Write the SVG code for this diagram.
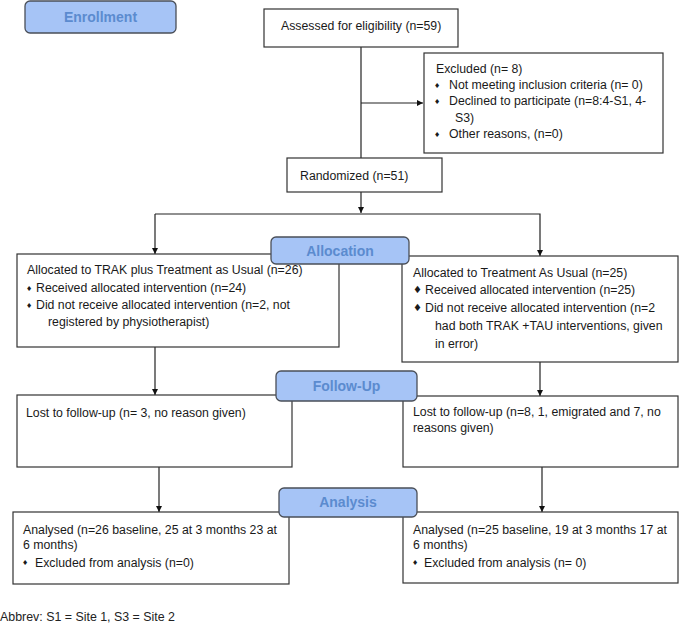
<svg xmlns="http://www.w3.org/2000/svg" width="679" height="626" viewBox="0 0 679 626">
<style>
.box{fill:#fff;stroke:#333;stroke-width:1.2}
.lbl{fill:#a6c4f6;stroke:#4a4f58;stroke-width:1.3}
.lt{font-family:"Liberation Sans",Arial,sans-serif;font-weight:bold;font-size:14px;fill:#5b8bcf;text-anchor:middle}
.t{font-family:"Liberation Sans",Arial,sans-serif;font-size:12.3px;fill:#1a1a1a}
.b{font-family:"DejaVu Sans",sans-serif;font-size:7px;fill:#1a1a1a}
.bb{font-family:"DejaVu Sans",sans-serif;font-size:10px;fill:#1a1a1a}
.ln{fill:none;stroke:#222;stroke-width:1.2}
.ft{font-family:"Liberation Sans",Arial,sans-serif;font-size:12.4px;fill:#222}
</style>
<defs>
<marker id="ah" viewBox="0 0 10 10" refX="10" refY="5" markerWidth="6" markerHeight="6" orient="auto" markerUnits="userSpaceOnUse">
<path d="M0,0 L10,5 L0,10 Z" fill="#111"/>
</marker>
</defs>

<g id="connectors">
<path class="ln" d="M361,47 V158"/>
<path class="ln" d="M361,103 H423" marker-end="url(#ah)"/>
<path class="ln" d="M361,192 V213" marker-end="url(#ah)"/>
<path class="ln" d="M155,214 H540 V256" marker-end="url(#ah)"/>
<path class="ln" d="M155,214 V254" marker-end="url(#ah)"/>
<path class="ln" d="M155,347 V395" marker-end="url(#ah)"/>
<path class="ln" d="M540,362 V396" marker-end="url(#ah)"/>
<path class="ln" d="M159,467 V512" marker-end="url(#ah)"/>
<path class="ln" d="M542,467 V512" marker-end="url(#ah)"/>
</g>

<g id="enrollment">
<rect class="lbl" x="25" y="1" width="151" height="32" rx="5"/>
<text class="lt" x="100.5" y="22">Enrollment</text>
</g>

<g id="assessed">
<rect class="box" x="264" y="9" width="194" height="38"/>
<text class="t" x="281" y="30">Assessed for eligibility (n=59)</text>
</g>

<g id="excluded">
<rect class="box" x="424" y="53" width="239" height="100"/>
<text class="t" x="436" y="73">Excluded (n= 8)</text>
<text class="b" x="434" y="88">♦</text>
<text class="t" x="449" y="89">Not meeting inclusion criteria (n= 0)</text>
<text class="b" x="434" y="104">♦</text>
<text class="t" x="449" y="105">Declined to participate (n=8:4-S1, 4-</text>
<text class="t" x="455" y="122">S3)</text>
<text class="b" x="434" y="137">♦</text>
<text class="t" x="449" y="138">Other reasons, (n=0)</text>
</g>

<g id="randomized">
<rect class="box" x="287" y="158" width="155" height="34"/>
<text class="t" x="300" y="180">Randomized (n=51)</text>
</g>

<g id="alloc-left">
<rect class="box" x="17" y="254" width="322" height="93"/>
<text class="t" x="27" y="274">Allocated to TRAK plus Treatment as Usual (n=26)</text>
<text class="b" x="26" y="291">♦</text>
<text class="t" x="36" y="292">Received allocated intervention (n=24)</text>
<text class="b" x="26" y="308">♦</text>
<text class="t" x="36" y="309">Did not receive allocated intervention  (n=2, not</text>
<text class="t" x="48" y="326">registered by physiotherapist)</text>
</g>

<g id="alloc-right">
<rect class="box" x="402" y="256" width="276" height="106"/>
<text class="t" x="413" y="277">Allocated to Treatment As Usual (n=25)</text>
<text class="bb" x="413" y="293">♦</text>
<text class="t" x="425" y="294">Received allocated intervention (n=25)</text>
<text class="bb" x="413" y="311">♦</text>
<text class="t" x="425" y="312">Did not receive allocated intervention (n=2</text>
<text class="t" x="435" y="330">had both TRAK +TAU interventions, given</text>
<text class="t" x="435" y="348">in error)</text>
</g>

<g id="allocation">
<rect class="lbl" x="271" y="237" width="138" height="27" rx="5"/>
<text class="lt" x="340" y="256">Allocation</text>
</g>

<g id="follow-left">
<rect class="box" x="17" y="395" width="275" height="72"/>
<text class="t" x="26" y="417">Lost to follow-up (n= 3, no reason given)</text>
</g>

<g id="follow-right">
<rect class="box" x="403" y="396" width="275" height="71"/>
<text class="t" x="413" y="416">Lost to follow-up (n=8, 1, emigrated and 7, no</text>
<text class="t" x="413" y="432">reasons given)</text>
</g>

<g id="followup">
<rect class="lbl" x="276" y="371" width="141" height="30" rx="5"/>
<text class="lt" x="346.5" y="391">Follow-Up</text>
</g>

<g id="analysed-left">
<rect class="box" x="13" y="512" width="276" height="72"/>
<text class="t" x="23" y="534">Analysed (n=26 baseline, 25 at 3 months 23 at</text>
<text class="t" x="23" y="549">6 months)</text>
<text class="b" x="22" y="565">♦</text>
<text class="t" x="35" y="567">Excluded from analysis (n=0)</text>
</g>

<g id="analysed-right">
<rect class="box" x="403" y="512" width="275" height="71"/>
<text class="t" x="413" y="534">Analysed (n=25 baseline, 19 at 3 months 17 at</text>
<text class="t" x="413" y="549">6 months)</text>
<text class="b" x="412" y="565">♦</text>
<text class="t" x="424" y="567">Excluded from analysis (n= 0)</text>
</g>

<g id="analysis">
<rect class="lbl" x="279" y="488" width="138" height="29" rx="5"/>
<text class="lt" x="348" y="507">Analysis</text>
</g>

<text class="ft" x="0" y="621">Abbrev: S1 = Site 1, S3 = Site 2</text>
</svg>
